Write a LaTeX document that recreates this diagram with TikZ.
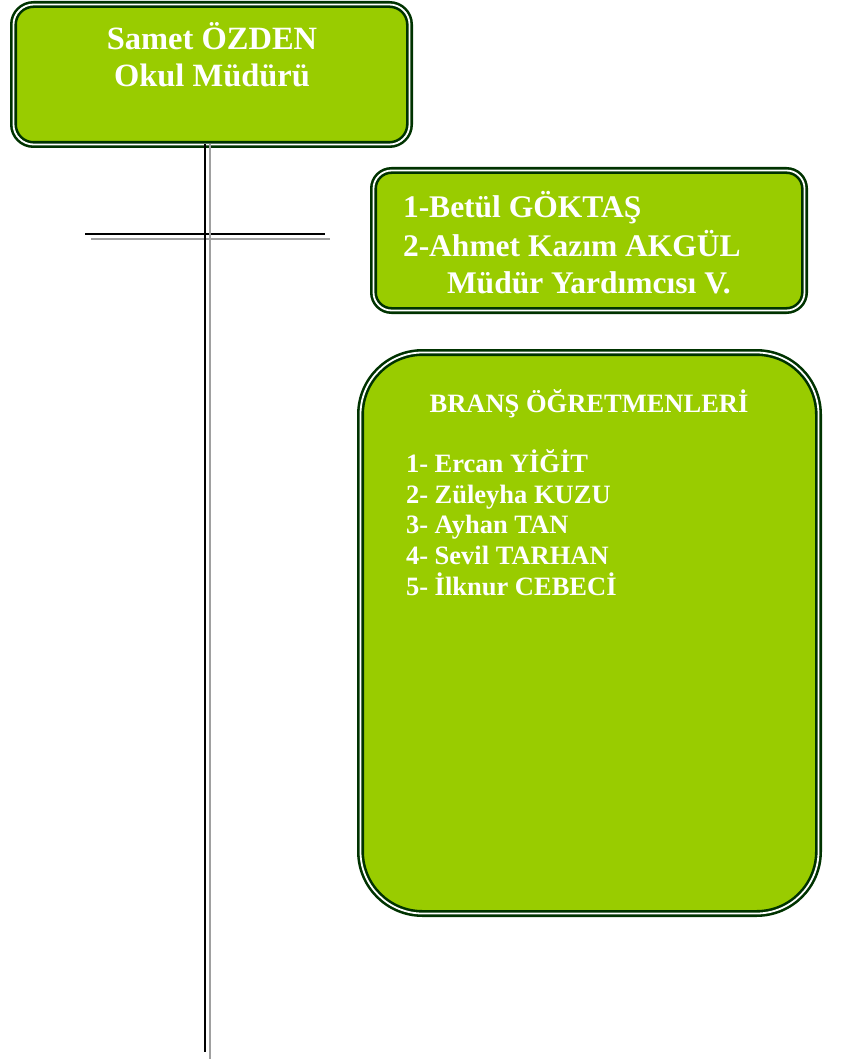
\documentclass[tikz,border=0pt]{standalone}
\usepackage{fontspec}
\setmainfont{Liberation Serif}
\definecolor{boxgreen}{HTML}{99CC00}
\definecolor{boxedge}{HTML}{003300}
\definecolor{linegray}{HTML}{A0A0A0}
\tikzset{
  card/.style={draw=boxedge, fill=boxgreen, line width=2.6pt, double=white,
    double distance=1.8pt, inner sep=0pt, outer sep=0pt},
  lblA/.style={text=white, inner sep=0pt, outer sep=0pt, anchor=base,
    font=\fontsize{32.5}{38}\selectfont\bfseries},
  lblB/.style={text=white, inner sep=0pt, outer sep=0pt, anchor=base west,
    font=\fontsize{31.5}{37}\selectfont\bfseries},
  lblC/.style={text=white, inner sep=0pt, outer sep=0pt, anchor=base west,
    font=\fontsize{26.5}{30}\selectfont\bfseries},
  blackln/.style={draw=black, line width=2.6pt},
  grayln/.style={draw=linegray, line width=2.5pt},
}
\begin{document}
\begin{tikzpicture}[x=1pt,y=-1pt]
\useasboundingbox (0,0) rectangle (840,1059);
% connector coordinates
\coordinate (kbot) at (205,1052);
\coordinate (gbot) at (210,1059);
\coordinate (khl) at (85,234);
\coordinate (khr) at (325,234);
\coordinate (ghl) at (91,239);
\coordinate (ghr) at (330,239);
% horizontal lines
\draw[grayln] (ghl) -- (ghr);
\draw[blackln] (khl) -- (khr);
% boxes
\node[card, rounded corners=20pt, minimum width=396pt, minimum height=140pt] (boss) at (211.5,74.5) {};
\node[card, rounded corners=18pt, minimum width=431pt, minimum height=140pt] (vice) at (589,240.5) {};
\node[card, rounded corners=62pt, minimum width=458pt, minimum height=561pt] (brans) at (589.5,633) {};
% vertical lines from boss
\draw[grayln] (boss.south -| gbot) -- (gbot);
\draw[blackln] (boss.south -| kbot) -- (kbot);
% texts
\node[lblA] (t1) at (212,50) {Samet ÖZDEN};
\node[lblA] (t2) at (212,87) {Okul Müdürü};
\node[lblB] (v1) at (403,218) {1-Betül GÖKTAŞ};
\node[lblB] (v2) at (403,256) {2-Ahmet Kazım AKGÜL};
\node[lblB] (v3) at (447,293) {Müdür Yardımcısı V.};
\node[lblC, anchor=base] (bh) at (589,412) {BRANŞ ÖĞRETMENLERİ};
\node[lblC] (b1) at (406,472) {1- Ercan YİĞİT};
\node[lblC] (b2) at (406,503) {2- Züleyha KUZU};
\node[lblC] (b3) at (406,533) {3- Ayhan TAN};
\node[lblC] (b4) at (406,564) {4- Sevil TARHAN};
\node[lblC] (b5) at (406,595) {5- İlknur CEBECİ};
\end{tikzpicture}
\end{document}
